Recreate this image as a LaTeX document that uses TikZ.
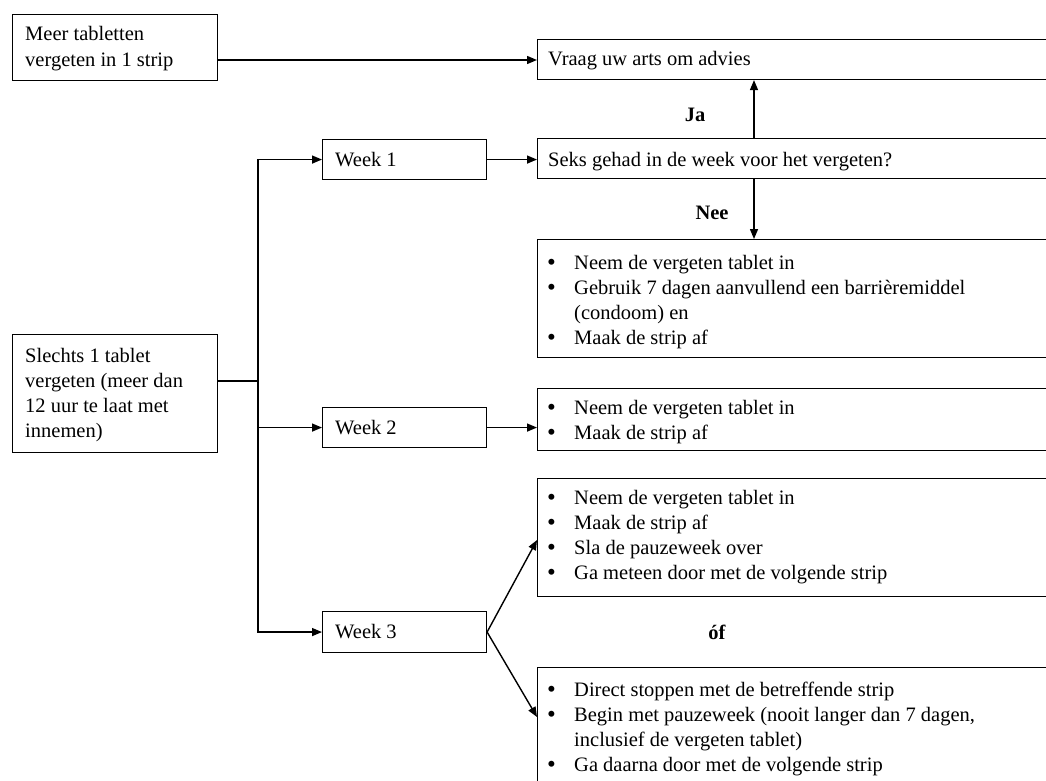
\documentclass[tikz,border=0pt]{standalone}
\usepackage{fontspec}
\setmainfont{Liberation Serif}
\usetikzlibrary{arrows.meta}
\begin{document}
\begin{tikzpicture}[x=1pt,y=-1pt,
  box/.style={draw, line width=1.1pt, anchor=north west, inner sep=0pt},
  txt/.style={anchor=base west, inner sep=0pt, font=\fontsize{20.5}{25}\selectfont},
  bullet/.style={anchor=base west, inner sep=0pt, font=\fontsize{25}{25}\selectfont},
  lbl/.style={inner sep=0pt, font=\fontsize{20.5}{25}\selectfont\bfseries},
  conn/.style={line width=1.4pt, -{Triangle[length=10pt,width=8pt]}},
  plainline/.style={line width=1.4pt}]
\useasboundingbox (0,0) rectangle (1046,781);
\clip (0,0) rectangle (1046,781);
% boxes
\node[box, minimum width=205pt, minimum height=66pt] (meer) at (12,14) {};
\node[box, minimum width=540pt, minimum height=40pt] (vraag) at (537,39) {};
\node[box, minimum width=164pt, minimum height=40pt] (week1) at (322,139) {};
\node[box, minimum width=540pt, minimum height=40pt] (seks) at (537,138) {};
\node[box, minimum width=540pt, minimum height=118pt] (box1) at (537,239) {};
\node[box, minimum width=205pt, minimum height=118pt] (slechts) at (12,334) {};
\node[box, minimum width=164pt, minimum height=40pt] (week2) at (322,407) {};
\node[box, minimum width=540pt, minimum height=62pt] (box2) at (537,388) {};
\node[box, minimum width=540pt, minimum height=118pt] (box3) at (537,478) {};
\node[box, minimum width=164pt, minimum height=41pt] (week3) at (322,611) {};
\node[box, minimum width=540pt, minimum height=150pt] (box4) at (537,667) {};
% texts
\node[txt] (tmeer1) at (25,41) {Meer tabletten};
\node[txt] (tmeer2) at (25,67) {vergeten in 1 strip};
\node[txt] (tvraag) at (548,66) {Vraag uw arts om advies};
\node[txt] (tseks) at (548,166) {Seks gehad in de week voor het vergeten?};
\node[txt] (tw1) at (335,166) {Week 1};
\node[txt] (tw2) at (335,434) {Week 2};
\node[txt] (tw3) at (335,638) {Week 3};
\node[txt] (ts1) at (25,362) {Slechts 1 tablet};
\node[txt] (ts2) at (25,387) {vergeten (meer dan};
\node[txt] (ts3) at (25,412) {12 uur te laat met};
\node[txt] (ts4) at (25,437) {innemen)};
% box1
\node[bullet] (b1a) at (547,270) {•};
\node[txt] (t1a) at (574,269) {Neem de vergeten tablet in};
\node[bullet] (b1b) at (547,295) {•};
\node[txt] (t1b) at (574,294) {Gebruik 7 dagen aanvullend een barrièremiddel};
\node[txt] (t1c) at (574,319) {(condoom) en};
\node[bullet] (b1d) at (547,345) {•};
\node[txt] (t1d) at (574,344) {Maak de strip af};
% box2
\node[bullet] (b2a) at (547,415) {•};
\node[txt] (t2a) at (574,414) {Neem de vergeten tablet in};
\node[bullet] (b2b) at (547,440) {•};
\node[txt] (t2b) at (574,439) {Maak de strip af};
% box3
\node[bullet] (b3a) at (547,505) {•};
\node[txt] (t3a) at (574,504) {Neem de vergeten tablet in};
\node[bullet] (b3b) at (547,530) {•};
\node[txt] (t3b) at (574,529) {Maak de strip af};
\node[bullet] (b3c) at (547,555) {•};
\node[txt] (t3c) at (574,554) {Sla de pauzeweek over};
\node[bullet] (b3d) at (547,580) {•};
\node[txt] (t3d) at (574,579) {Ga meteen door met de volgende strip};
% box4
\node[bullet] (b4a) at (547,697) {•};
\node[txt] (t4a) at (574,696) {Direct stoppen met de betreffende strip};
\node[bullet] (b4b) at (547,722) {•};
\node[txt] (t4b) at (574,721) {Begin met pauzeweek (nooit langer dan 7 dagen,};
\node[txt] (t4c) at (574,746) {inclusief de vergeten tablet)};
\node[bullet] (b4d) at (547,772) {•};
\node[txt] (t4d) at (574,771) {Ga daarna door met de volgende strip};
% labels
\node[lbl] (ja) at (695,115) {Ja};
\node[lbl] (nee) at (712,213) {Nee};
\node[lbl] (of) at (717,632) {óf};
% helper coordinates
\coordinate (jx) at (754,0);
\coordinate (tr) at (258,0);
\coordinate (sj) at (258,381);
\coordinate (mj) at (0,60);
\coordinate (u3) at (0,540);
\coordinate (d3) at (0,717);
% connectors
\draw[conn] (mj -| meer.east) -- (mj -| vraag.west);
\draw[conn] (week1.east) -- (week1.east -| seks.west);
\draw[conn] (seks.north -| jx) -- (vraag.south -| jx);
\draw[conn] (seks.south -| jx) -- (box1.north -| jx);
\draw[plainline] (sj -| slechts.east) -- (sj);
\draw[conn] (sj) |- (week1.west);
\draw[conn] (sj) |- (week3.west);
\draw[conn] (week2.west -| tr) -- (week2.west);
\draw[conn] (week2.east) -- (week2.east -| box2.west);
\draw[conn] (week3.east) -- (u3 -| box3.west);
\draw[conn] (week3.east) -- (d3 -| box4.west);
\end{tikzpicture}
\end{document}
